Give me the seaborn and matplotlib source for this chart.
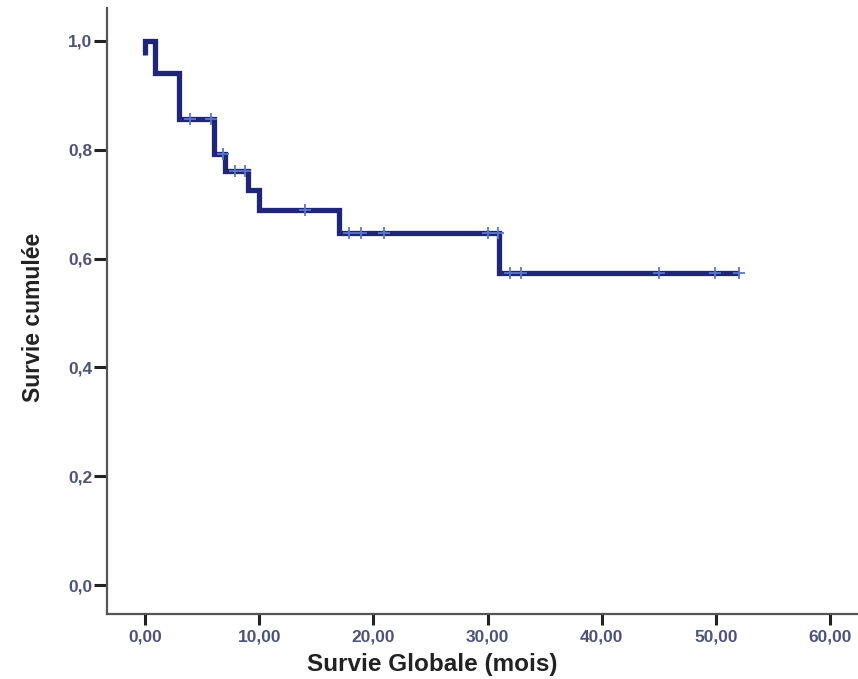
import numpy as np
import pandas as pd
import matplotlib
matplotlib.use("Agg")
import matplotlib.pyplot as plt
import seaborn as sns

# Kaplan-Meier step curve (time in months, cumulative survival)
event_times = [0.0, 0.0, 0.9, 3.0, 6.0, 7.0, 9.0, 10.0, 17.0, 31.0, 52.0]
survival = [0.974, 1.0, 0.941, 0.856, 0.792, 0.761, 0.726, 0.689, 0.646, 0.573, 0.573]

# Censored observations
censor_times = [3.9, 5.8, 6.8, 7.9, 8.8, 14.0, 17.9, 18.9, 20.9, 30.0,
                30.9, 32.0, 32.9, 45.0, 49.9, 52.0]

x_ticks = [0, 10, 20, 30, 40, 50, 60]
x_tick_labels = ["0,00", "10,00", "20,00", "30,00", "40,00", "50,00", "60,00"]
y_ticks = [0.0, 0.2, 0.4, 0.6, 0.8, 1.0]
y_tick_labels = ["0,0", "0,2", "0,4", "0,6", "0,8", "1,0"]

sns.set_theme(style="white")
plt.rcParams["font.family"] = ["Liberation Sans", "DejaVu Sans"]

curve = pd.DataFrame({"t": event_times, "s": survival})
# survival at each censor time, read from the step function
idx = np.searchsorted(np.array(event_times), np.array(censor_times), side="right") - 1
censored = pd.DataFrame({"t": censor_times, "s": np.array(survival)[idx]})

fig = plt.figure(figsize=(8.58, 6.79), dpi=100)
ax = fig.add_axes([0.1244, 0.095, 0.8757, 0.893])

sns.lineplot(data=curve, x="t", y="s", ax=ax, estimator=None, sort=False,
             drawstyle="steps-post", color="#1f2577", linewidth=3.8,
             solid_joinstyle="miter", solid_capstyle="butt", zorder=3)
sns.scatterplot(data=censored, x="t", y="s", ax=ax, marker="+", s=80,
                color="#5a78c8", linewidth=1.3, zorder=4)

ax.set_xlim(-3.35, 62.45)
ax.set_ylim(-0.054, 1.060)
ax.set_xticks(x_ticks)
ax.set_xticklabels(x_tick_labels, fontweight="bold")
ax.set_yticks(y_ticks)
ax.set_yticklabels(y_tick_labels, fontweight="bold")

for side in ("top", "right"):
    ax.spines[side].set_visible(False)
for side in ("left", "bottom"):
    ax.spines[side].set_color("#555555")
    ax.spines[side].set_linewidth(1.6)

ax.tick_params(axis="both", direction="out", width=2.2, color="#222222",
               labelsize=12.5, labelcolor="#4d5478", bottom=True, left=True)
ax.tick_params(axis="x", length=8, pad=3)
ax.tick_params(axis="y", length=9.5, pad=1)

ax.set_xlabel("Survie Globale (mois)", fontsize=17.5, fontweight="bold",
              color="#222222", va="center", ha="center")
ax.set_ylabel("Survie cumulée", fontsize=16.5, fontweight="bold",
              color="#222222", va="center", ha="center")
ax.xaxis.set_label_coords(0.5035, 0.022, transform=fig.transFigure)
ax.yaxis.set_label_coords(0.0385, 0.533, transform=fig.transFigure)

fig.savefig("out.png", dpi=100)
